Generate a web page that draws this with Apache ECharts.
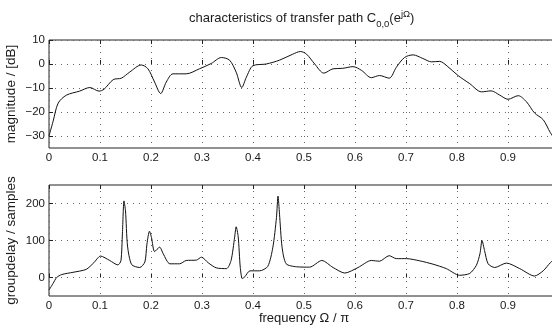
<!DOCTYPE html>
<html><head><meta charset="utf-8">
<script src="https://cdn.jsdelivr.net/npm/echarts@6/dist/echarts.min.js"></script>
<style>html,body{margin:0;padding:0;background:#fff}#c{width:552px;height:326px}</style>
</head><body><div id="c"></div>
<script>
const magFreq = [0,0.008,0.018,0.034,0.060,0.080,0.098,0.108,0.126,0.142,0.158,0.181,0.194,0.207,0.219,0.230,0.243,0.269,0.295,0.318,0.338,0.354,0.367,0.378,0.387,0.400,0.426,0.452,0.478,0.493,0.505,0.521,0.539,0.557,0.576,0.596,0.613,0.632,0.648,0.667,0.681,0.697,0.714,0.733,0.750,0.766,0.782,0.802,0.825,0.848,0.867,0.884,0.900,0.920,0.936,0.952,0.969,0.983,1.0];
const magDb = [-30,-23.9,-16.3,-13.0,-11.3,-9.8,-11.3,-10.5,-6.5,-5.9,-3.4,-0.4,-2.0,-7.5,-12.3,-7.5,-4.1,-4.1,-2.0,0.2,2.7,1.6,-3.4,-9.8,-5.5,-0.7,0,1.6,4.1,5.2,4.1,0,-3.8,-2.0,-1.8,-1.1,-2.7,-5.7,-4.8,-5.9,-1.4,2.7,3.8,2.3,0.9,1.1,-1.1,-4.8,-8.2,-11.6,-11.2,-13.0,-14.7,-13.2,-15.7,-20.4,-23.2,-28.6,-34];
const gdFreq = [0,0.008,0.015,0.025,0.047,0.073,0.088,0.101,0.119,0.135,0.141,0.144,0.147,0.150,0.154,0.162,0.178,0.188,0.192,0.197,0.201,0.207,0.217,0.224,0.237,0.256,0.269,0.289,0.299,0.312,0.328,0.348,0.357,0.364,0.367,0.371,0.375,0.379,0.384,0.394,0.413,0.429,0.439,0.446,0.449,0.452,0.457,0.465,0.485,0.511,0.535,0.557,0.580,0.606,0.632,0.648,0.667,0.681,0.701,0.727,0.753,0.779,0.805,0.825,0.838,0.845,0.849,0.854,0.861,0.874,0.897,0.923,0.952,0.969,0.983,1.0];
const gdVal = [-34,-16,0,8,14,22,40,58,46,34,45,120,207,180,85,35,27,42,90,125,108,70,82,64,37,37,46,47,55,40,26,24,46,109,137,110,28,-3,2,18,18,30,82,162,220,171,82,37,29,28,46,27,12,27,46,44,59,51,51,45,36,24,6,11,33,64,100,73,37,27,39,24,4,18,40,60];
const xTicks = [0,0.1,0.2,0.3,0.4,0.5,0.6,0.7,0.8,0.9,1];
const magTicks = [-30,-20,-10,0,10];
const gdTicks = [0,100,200];

const FONT = 'Liberation Sans, Arial, Helvetica, sans-serif';
const TXT = '#1a1a1a';
const pair = (xs, ys) => xs.map((x, i) => [x, ys[i]]);
const fmtNum = v => (v < 0 ? '\u2212' + Math.abs(v) : String(v));
const fmtX = v => (Math.abs(v - 1) < 1e-9 ? '' : (v === 0 ? '0' : v.toFixed(1)));

function xAxisBottom(gi, name) {
  return {
    type: 'value', gridIndex: gi, min: 0, max: 1, interval: 0.1, position: 'bottom',
    axisLine: {show: false},
    axisTick: {inside: true, length: 4, customValues: xTicks, lineStyle: {color: '#222'}},
    axisLabel: {customValues: xTicks, formatter: fmtX, color: TXT, fontFamily: FONT, fontSize: 11.5, margin: 4},
    splitLine: {show: true, lineStyle: {color: '#666', type: [1, 5], width: 1}},
    name: name || '', nameLocation: 'middle', nameGap: 16, nameMoveOverlap: false,
    nameTextStyle: {color: TXT, fontFamily: FONT, fontSize: 13}
  };
}
function xAxisTop(gi) {
  return {
    type: 'value', gridIndex: gi, min: 0, max: 1, interval: 0.1, position: 'top',
    axisLine: {show: false},
    axisTick: {inside: true, length: 4, lineStyle: {color: '#222'}},
    axisLabel: {show: false}, splitLine: {show: false}
  };
}
function yAxisL(gi, min, max, ticks, name) {
  return {
    type: 'value', gridIndex: gi, min: min, max: max,
    axisLine: {show: false},
    axisTick: {inside: true, length: 4, customValues: ticks, lineStyle: {color: '#222'}},
    axisLabel: {customValues: ticks, formatter: fmtNum, color: TXT, fontFamily: FONT, fontSize: 11.5, margin: 4},
    splitLine: {show: true, lineStyle: {color: '#666', type: [1, 5], width: 1}},
    name: name, nameLocation: 'middle', nameGap: 31, nameRotate: 90, nameMoveOverlap: false,
    nameTextStyle: {color: TXT, fontFamily: FONT, fontSize: 13.5}
  };
}

const chart = echarts.init(document.getElementById('c'), null, {renderer: 'canvas'});
chart.setOption({
  animation: false,
  backgroundColor: '#fff',
  title: {
    text: '{a|characteristics of transfer path C}{s|0,0}{a|(e}{p|j\u03a9}{a|)}',
    left: 184, top: 4,
    textStyle: {
      fontWeight: 'normal',
      rich: {
        a: {fontFamily: FONT, fontSize: 13, fontWeight: 'normal', color: TXT, verticalAlign: 'bottom', lineHeight: 16},
        s: {fontFamily: FONT, fontSize: 9.5, fontWeight: 'normal', color: TXT, verticalAlign: 'bottom', padding: [0, 0, -4, 0], lineHeight: 16},
        p: {fontFamily: FONT, fontSize: 9.5, fontWeight: 'normal', color: TXT, verticalAlign: 'top', padding: [0, 0, 6, 0], lineHeight: 16}
      }
    }
  },
  grid: [
    {left: 49, top: 40, width: 510, height: 108, outerBoundsMode: 'none', containLabel: false, show: true, borderColor: '#222', borderWidth: 1, backgroundColor: 'transparent'},
    {left: 49, top: 185, width: 510, height: 111, outerBoundsMode: 'none', containLabel: false, show: true, borderColor: '#222', borderWidth: 1, backgroundColor: 'transparent'}
  ],
  xAxis: [xAxisBottom(0), xAxisTop(0), xAxisBottom(1, 'frequency \u03a9 / \u03c0'), xAxisTop(1)],
  yAxis: [
    yAxisL(0, -35, 10, magTicks, 'magnitude / [dB]'),
    yAxisL(1, -50, 250, gdTicks, 'groupdelay / samples')
  ],
  series: [
    {type: 'line', xAxisIndex: 0, yAxisIndex: 0, data: pair(magFreq, magDb), showSymbol: false, smooth: 0.3,
     lineStyle: {color: '#111', width: 1}, clip: true},
    {type: 'line', xAxisIndex: 2, yAxisIndex: 1, data: pair(gdFreq, gdVal), showSymbol: false, smooth: 0.25,
     lineStyle: {color: '#111', width: 1}, clip: true}
  ]
});
</script></body></html>
